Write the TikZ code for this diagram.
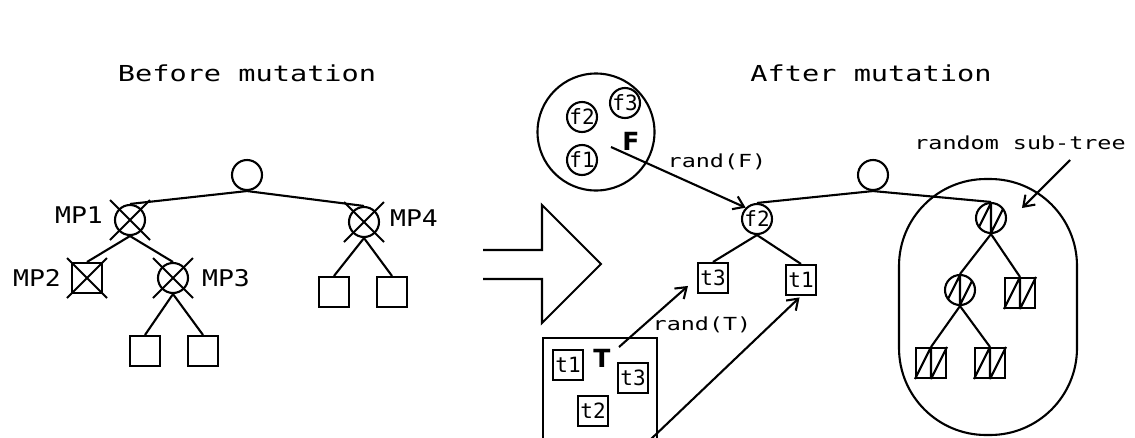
\documentclass[tikz,border=0pt]{standalone}
\usepackage{fontspec}
\usepackage{graphicx}
\usetikzlibrary{arrows.meta}
\newfontfamily\cadfont{DejaVu Sans Mono}
\newfontfamily\setfont{DejaVu Sans}
\newcommand\wide[2][1.3]{\scalebox{#1}[1]{#2}}

\begin{document}
\begin{tikzpicture}[x=1pt, y=-1pt, line width=2.1pt,
        fnode/.style={circle, draw, minimum size=30pt, inner sep=0pt, font=\cadfont\fontsize{21}{21}\selectfont},
        tnode/.style={rectangle, draw, minimum size=30pt, inner sep=0pt, font=\cadfont\fontsize{21}{21}\selectfont},
        headline/.style={font=\cadfont\fontsize{22}{22}\selectfont},
        mplabel/.style={font=\cadfont\fontsize{23}{23}\selectfont},
        randlabel/.style={font=\cadfont\fontsize{18}{18}\selectfont},
        setlabel/.style={font=\setfont\bfseries\fontsize{25}{25}\selectfont},
        randarrow/.style={-{Straight Barb[length=10pt,width=14pt]}},
    ]
        \useasboundingbox (0,0) rectangle (1135,437);
        \clip (0,0) rectangle (1135,437);

        %Titles
        \node[headline] (before) at (247,73) {\wide{Before mutation}};
        \node[headline] (after) at (871,73) {\wide{After mutation}};

        %Nodes, left tree
        \node[fnode] (lroot) at (247,175) {};
        \node[fnode] (mp1) at (130,220) {};
        \node[fnode] (mp4) at (364,222) {};
        \node[tnode] (mp2) at (87,278) {};
        \node[fnode] (mp3) at (173,278) {};
        \node[tnode] (l1) at (145,351) {};
        \node[tnode] (l2) at (203,351) {};
        \node[tnode] (l3) at (334,292) {};
        \node[tnode] (l4) at (392,292) {};

        \node[mplabel] (mp1lbl) at (79,215) {\wide[1.15]{MP1}};
        \node[mplabel] (mp2lbl) at (37,278) {\wide[1.15]{MP2}};
        \node[mplabel] (mp3lbl) at (226,278) {\wide[1.15]{MP3}};
        \node[mplabel] (mp4lbl) at (414,218) {\wide[1.15]{MP4}};

        %Lines, left tree
        \draw (lroot.south) -- (mp1.north);
        \draw (lroot.south) -- (mp4.north);
        \draw (mp1.south) -- (mp2.north);
        \draw (mp1.south) -- (mp3.north);
        \draw (mp3.south) -- (l1.north);
        \draw (mp3.south) -- (l2.north);
        \draw (mp4.south) -- (l3.north);
        \draw (mp4.south) -- (l4.north);

        % mutation points
        \foreach \n in {mp1,mp2,mp3,mp4}{
            \draw (\n.center) +(-20,-20) -- +(20,20) +(-20,20) -- +(20,-20);
        }

        % big arrow
        \draw[line join=miter] (483,250) -- (542,250) -- (542,205) -- (601,264) -- (542,323) -- (542,279) -- (483,279);

        %Function and terminal sets
        \node[circle, draw, minimum size=117pt, inner sep=0pt] (fset) at (596,132) {};
        \node[fnode] (f2) at (582,117) {f2};
        \node[fnode] (f3) at (625,103) {f3};
        \node[fnode] (f1) at (582,160) {f1};
        \node[setlabel] (flbl) at (631,141) {F};

        \node[draw, minimum size=114pt, inner sep=0pt] (tset) at (600,395) {};
        \node[tnode] (t1) at (568,365) {t1};
        \node[tnode] (t3) at (633,378) {t3};
        \node[tnode] (t2) at (593,411) {t2};
        \node[setlabel] (tlbl) at (602,358) {T};

        %Nodes, right tree
        \node[fnode] (rroot) at (873,175) {};
        \node[fnode] (nf2) at (757,219) {f2};
        \node[tnode] (nt3) at (713,278) {t3};
        \node[tnode] (nt1) at (801,280) {t1};
        \node[fnode] (s1) at (991,218) {};
        \node[fnode] (s2) at (960,290) {};
        \node[tnode] (s3) at (1020,293) {};
        \node[tnode] (s4) at (931,363) {};
        \node[tnode] (s5) at (990,363) {};
        \node[draw, rounded corners=87pt, minimum width=178pt, minimum height=256pt, inner sep=0pt] (subtree) at (988,307) {};

        %Lines, right tree
        \draw (rroot.south) -- (nf2.north);
        \draw (rroot.south) -- (s1.north);
        \draw (nf2.south) -- (nt3.north);
        \draw (nf2.south) -- (nt1.north);
        \draw (s1.south) -- (s2.north);
        \draw (s1.south) -- (s3.north);
        \draw (s2.south) -- (s4.north);
        \draw (s2.south) -- (s5.north);

        % hatched sub-tree
        \foreach \n in {s3,s4,s5}{
            \draw (\n.north) -- (\n.south) (\n.south west) -- (\n.north) (\n.south) -- (\n.north east);
        }
        \foreach \n in {s1,s2}{
            \begin{scope}
                \clip (\n.center) circle (15pt);
                \draw (\n.center) +(0,-15) -- +(0,15) +(-15,15) -- +(0,-15) +(0,15) -- +(15,-15);
            \end{scope}
        }

        %Arrows
        \node[randlabel] (randf) at (717,162) {\wide{rand(F)}};
        \node[randlabel] (randt) at (702,325) {\wide{rand(T)}};
        \node[randlabel] (sublbl) at (1020,143) {\wide{random sub-tree}};

        \coordinate (fstart) at (611,147);
        \coordinate (tstart) at (619,347);
        \coordinate (tstart2) at (650,440);
        \coordinate (substart) at (1070,160);
        \coordinate (subtip) at (1022,208);

        \draw[randarrow] (fstart) -- (nf2.north west);
        \draw[randarrow, shorten >=12pt] (tstart) -- (nt3.west);
        \draw[randarrow, shorten >=2pt] (tstart2) -- (nt1.south);
        \draw[randarrow] (substart) -- (subtip);
    \end{tikzpicture}
\end{document}
